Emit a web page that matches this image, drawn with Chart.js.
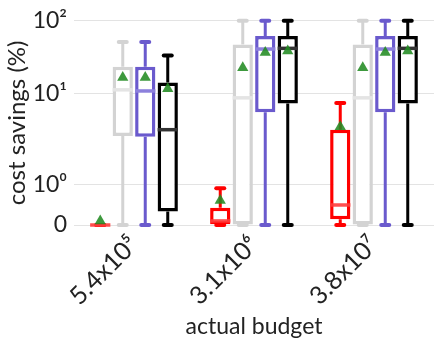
<!DOCTYPE html>
<html>
<head>
<meta charset="utf-8">
<script src="https://cdn.jsdelivr.net/npm/chart.js@4.4.1/dist/chart.umd.min.js"></script>
<style>
  html, body { margin: 0; padding: 0; background: #fff; }
  #wrap { width: 440px; height: 345px; }
</style>
</head>
<body>
<div id="wrap"><canvas id="c" width="440" height="345"></canvas></div>
<script>
// budgets on the x axis
var categories = ["5.4x10\u2075", "3.1x10\u2076", "3.8x10\u2077"];

// one row per method (red, grey, purple, black), one column per budget
var mins    = [[0, 0, 0],       [0, 0, 0],         [0, 0, 0],         [0, 0, 0]];
var q1s     = [[0, 0.02, 0.14], [3.4, 0, 0],       [3.35, 6.25, 6.25], [0.33, 7.8, 7.8]];
var medians = [[0, 0.1, 0.49],  [11.3, 9, 9],      [10.9, 41, 41],    [4.0, 41.9, 41.9]];
var q3s     = [[0, 0.42, 4.0],  [23.4, 47.4, 47.4], [23.4, 61.8, 61.8], [14.3, 61.8, 61.8]];
var maxs    = [[0, 0.9, 7.9],   [51, 100, 100],    [51, 100, 100],    [33.4, 100, 100]];
var means   = [[0.1, 0.6, 4.3], [16.7, 22.7, 22.7], [16.7, 36.6, 36.6], [11.7, 38.6, 38.6]];

// y axis ticks
var tickValues = [0, 1, 10, 100];
var tickLabels = ["0", "10\u2070", "10\u00b9", "10\u00b2"];

var colors = ["#ff0000", "#d3d3d3", "#6a5acd", "#000000"];
var medianColors = ["rgba(255,60,60,0.9)", "#e4e4e4", "#8c80dc", "#333333"];
var tickPos = [0, 0.2, 0.643, 1];

// symlog-ish mapping, linear below 1, log above
function tf(v) {
  if (v <= tickValues[1]) return tickPos[1] * v;
  for (var k = 1; k < tickValues.length - 1; k++) {
    if (v <= tickValues[k + 1] || k == tickValues.length - 2) {
      var f = Math.log10(v / tickValues[k]) / Math.log10(tickValues[k + 1] / tickValues[k]);
      return tickPos[k] + (tickPos[k + 1] - tickPos[k]) * f;
    }
  }
}

var FONT = "Lato";
var datasets = colors.map(function (col, s) {
  return {
    data: categories.map(function (c, i) { return [tf(q1s[s][i]), tf(q3s[s][i])]; }),
    backgroundColor: "#ffffff",
    borderColor: col,
    borderWidth: 3.5,
    borderSkipped: false,
    barPercentage: 0.9,
    categoryPercentage: 0.75,
    clip: false
  };
});

var boxPlugin = {
  id: "boxparts",
  beforeDatasetDraw: function (chart, args) {
    var s = args.index, y = chart.scales.y, ctx = chart.ctx;
    ctx.save();
    ctx.strokeStyle = colors[s];
    args.meta.data.forEach(function (bar, i) {
      var x = bar.x;
      ctx.lineCap = "butt";
      ctx.lineWidth = 3;
      ctx.beginPath();
      ctx.moveTo(x, y.getPixelForValue(tf(q3s[s][i])));
      ctx.lineTo(x, y.getPixelForValue(tf(maxs[s][i])));
      ctx.moveTo(x, y.getPixelForValue(tf(q1s[s][i])));
      ctx.lineTo(x, y.getPixelForValue(tf(mins[s][i])));
      ctx.stroke();
      ctx.lineCap = "round";
      ctx.lineWidth = 4;
      [maxs[s][i], mins[s][i]].forEach(function (v) {
        var py = y.getPixelForValue(tf(v));
        ctx.beginPath();
        ctx.moveTo(x - 4, py);
        ctx.lineTo(x + 4, py);
        ctx.stroke();
      });
    });
    ctx.restore();
  },
  afterDatasetDraw: function (chart, args) {
    var s = args.index, y = chart.scales.y, ctx = chart.ctx;
    ctx.save();
    ctx.strokeStyle = medianColors[s];
    ctx.lineWidth = 3.5;
    args.meta.data.forEach(function (bar, i) {
      var py = y.getPixelForValue(tf(medians[s][i]));
      ctx.beginPath();
      ctx.moveTo(bar.x - bar.width / 2, py);
      ctx.lineTo(bar.x + bar.width / 2, py);
      ctx.stroke();
    });
    ctx.restore();
  },
  afterDatasetsDraw: function (chart) {
    var y = chart.scales.y, ctx = chart.ctx;
    ctx.save();
    ctx.fillStyle = "rgba(34,139,34,0.88)";
    ctx.strokeStyle = "rgba(34,139,34,0.88)";
    chart.data.datasets.forEach(function (ds, s) {
      chart.getDatasetMeta(s).data.forEach(function (bar, i) {
        Chart.helpers.drawPoint(ctx, { pointStyle: "triangle", radius: 6.5, rotation: 0, borderWidth: 0 },
          bar.x, y.getPixelForValue(tf(means[s][i])));
      });
    });
    ctx.restore();
  }
};

new Chart(document.getElementById("c").getContext("2d"), {
  type: "bar",
  data: { labels: categories, datasets: datasets },
  plugins: [boxPlugin],
  options: {
    responsive: false,
    animation: false,
    layout: { padding: { top: 15, right: 6, bottom: 0, left: 0 } },
    plugins: { legend: { display: false }, tooltip: { enabled: false } },
    scales: {
      x: {
        type: "category",
        offset: true,
        grid: { display: false },
        border: { display: false },
        ticks: {
          minRotation: 45, maxRotation: 45,
          color: "#222", padding: -3,
          font: { family: FONT, size: 25 }
        },
        title: {
          display: true, text: "actual budget", color: "#222",
          font: { family: FONT, size: 23 }, padding: { top: 0, bottom: 5 }
        },
        afterFit: function (scale) { scale.height = 120; }
      },
      y: {
        min: 0, max: 1,
        grid: { color: "#e3e3e3", lineWidth: 1, drawTicks: false },
        border: { display: false },
        afterBuildTicks: function (scale) {
          scale.ticks = tickValues.map(function (v) { return { value: tf(v) }; });
        },
        ticks: {
          color: "#222", padding: 7,
          font: { family: FONT, size: 23 },
          callback: function (val, idx) { return tickLabels[idx]; }
        },
        title: {
          display: true, text: "cost savings (%)", color: "#222",
          font: { family: FONT, size: 24 }, padding: { top: 3, bottom: 0 }
        },
        afterFit: function (scale) { scale.width = 74; }
      }
    }
  }
});
</script>
</body>
</html>
